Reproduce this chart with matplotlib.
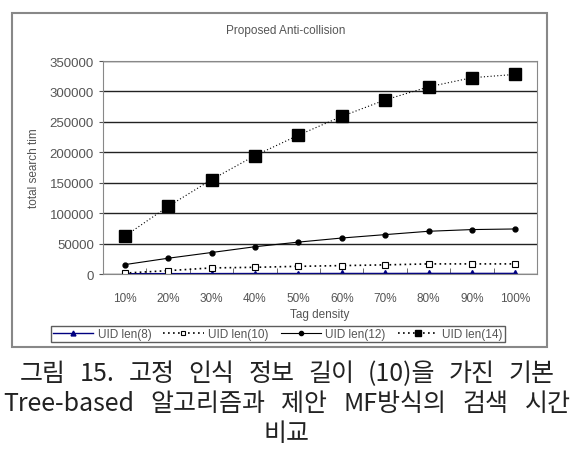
import numpy as np
import matplotlib.pyplot as plt
from matplotlib.patches import Rectangle
from matplotlib.lines import Line2D

plt.rcParams['font.family'] = ['Liberation Sans', 'DejaVu Sans']

# Data
densities = ["10%", "20%", "30%", "40%", "50%", "60%", "70%", "80%", "90%", "100%"]
uid8 = [500, 600, 700, 800, 800, 900, 900, 1000, 1000, 1000]
uid10 = [1500, 5500, 10000, 11000, 12600, 13800, 15000, 16600, 16600, 16600]
uid12 = [15400, 25900, 35300, 44800, 52400, 59100, 64700, 70200, 73000, 74000]
uid14 = [62000, 111000, 155000, 194500, 228000, 259000, 286000, 307500, 322500, 328000]
labels = ["UID len(8)", "UID len(10)", "UID len(12)", "UID len(14)"]
caption_lines = ["그림 15. 고정 인식 정보 길이 (10)을 가진 기본",
                 "Tree-based 알고리즘과 제안 MF방식의 검색 시간",
                 "비교"]

W, H = 572, 456
fig = plt.figure(figsize=(W / 100, H / 100), dpi=100)
ax = fig.add_axes([103 / W, 1 - 275 / H, (537 - 103) / W, (275 - 62) / H])

# outer chart frame
fig.patches.append(Rectangle((12 / W, 1 - 348 / H), (547 - 12) / W, (348 - 14) / H,
                             transform=fig.transFigure, fill=False,
                             edgecolor="#888888", linewidth=1.5))

x = np.arange(len(densities))
gray = "#555555"

ax.plot(x, uid8, color="#000080", lw=1, marker="^", ms=4)
ax.plot(x, uid10, color="black", lw=1.2, ls=(0, (1, 2)), marker="s", ms=4,
        mfc="white", mec="black", mew=0.8)
ax.plot(x, uid12, color="black", lw=0.8, marker="o", ms=3.5)
ax.plot(x, uid14, color="black", lw=0.8, ls=(0, (1, 2)), marker="s", ms=8)

ax.set_xlim(-0.5, len(densities) - 0.5)
ax.set_ylim(0, 350000)
ax.set_yticks(np.arange(0, 350001, 50000))
ax.set_yticklabels([str(v) for v in range(0, 350001, 50000)])
ax.set_xticks(x)
ax.set_xticklabels(densities)
ax.set_xticks(np.arange(-0.5, len(densities)), minor=True)
ax.tick_params(axis="x", which="major", length=0, labelsize=8.5, colors=gray, pad=13)
ax.tick_params(axis="x", which="minor", length=4, direction="in", color=gray)
ax.tick_params(axis="y", length=3, labelsize=9.5, colors=gray)
ax.yaxis.grid(True, color="#222222", lw=1)
ax.set_axisbelow(True)
for s in ax.spines.values():
    s.set_color("#888888")

ax.set_xlabel("Tag density", fontsize=8.5, color=gray, labelpad=3)
ax.set_ylabel("total search tim", fontsize=8.5, color=gray, labelpad=7)
fig.text(286 / W, 1 - 31 / H, "Proposed Anti-collision", ha="center", va="center",
         fontsize=8.5, color=gray)

# legend with small markers, as in the original
handles = [
    Line2D([], [], color="#000080", lw=1, marker="^", ms=3.5),
    Line2D([], [], color="black", lw=1.2, ls=(0, (1, 2)), marker="s", ms=3.5,
           mfc="white", mec="black", mew=0.8),
    Line2D([], [], color="black", lw=0.8, marker="o", ms=3),
    Line2D([], [], color="black", lw=1.2, ls=(0, (1, 2)), marker="s", ms=5),
]
fig.legend(handles, labels, loc="center", bbox_to_anchor=(278 / W, 1 - 335 / H),
           ncol=4, fontsize=8.5, frameon=True, fancybox=False, edgecolor="#333333",
           handlelength=3.4, columnspacing=1.0, handletextpad=0.4,
           borderpad=0.2, borderaxespad=0, labelcolor=gray)

# caption: first two lines justified to the given width
fig.canvas.draw()
renderer = fig.canvas.get_renderer()
spans = [(20, 555, 374), (3, 571, 404)]
for line, (x0, x1, y) in zip(caption_lines[:2], spans):
    words = line.split(" ")
    texts = [fig.text(0, 1 - y / H, w, ha="left", va="center", fontsize=18,
                      color="#222222", family=["Noto Sans CJK KR", "DejaVu Sans"])
             for w in words]
    widths = [t.get_window_extent(renderer).width for t in texts]
    gap = (x1 - x0 - sum(widths)) / (len(words) - 1)
    pos = x0
    for t, w in zip(texts, widths):
        t.set_x(pos / W)
        pos += w + gap
fig.text(286 / W, 1 - 434 / H, caption_lines[2], ha="center", va="center", fontsize=18,
         color="#222222", family=["Noto Sans CJK KR", "DejaVu Sans"])

fig.savefig("out.png", dpi=100)
